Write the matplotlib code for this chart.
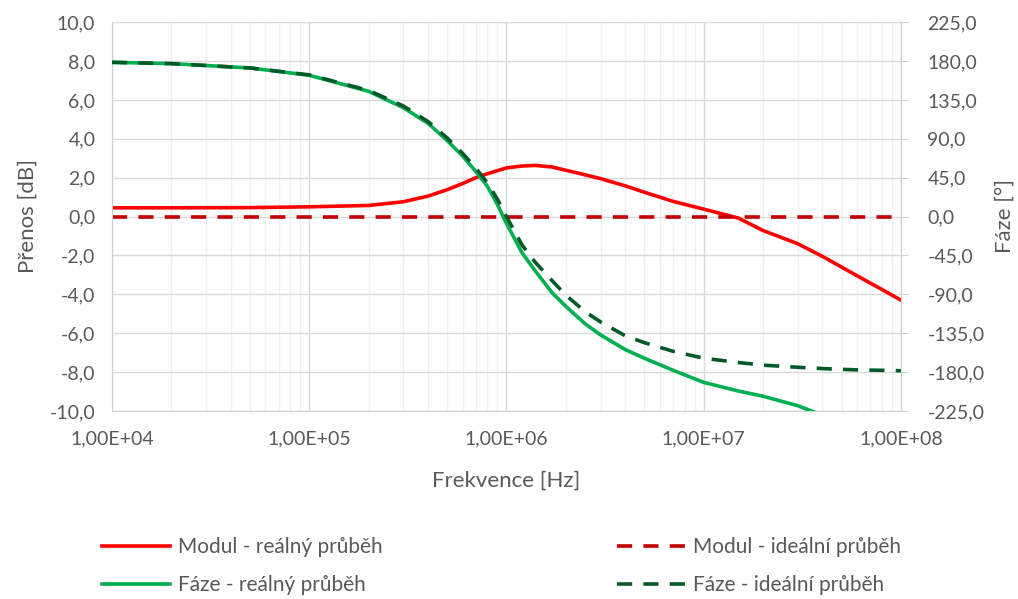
import matplotlib
matplotlib.use("Agg")
import matplotlib.pyplot as plt
from matplotlib.ticker import FixedLocator, FuncFormatter, LogLocator, NullFormatter, NullLocator

plt.rcParams["font.family"] = ["Lato", "DejaVu Sans"]

# Frequency points [Hz]
frequency = [1e4, 2e4, 5e4, 1e5, 2e5, 3e5, 4e5, 5e5, 6e5, 7e5, 8e5, 9e5,
             1e6, 1.2e6, 1.4e6, 1.7e6, 2e6, 2.5e6, 3e6, 4e6, 5e6, 7e6,
             1e7, 1.5e7, 2e7, 3e7, 4e7, 6e7, 8e7, 1e8]

# Magnitude [dB]
modul_real = [0.45, 0.45, 0.46, 0.50, 0.57, 0.76, 1.05, 1.38, 1.70, 2.00, 2.20, 2.36,
              2.50, 2.60, 2.63, 2.55, 2.38, 2.15, 1.95, 1.58, 1.25, 0.78,
              0.38, -0.08, -0.72, -1.40, -2.05, -3.05, -3.75, -4.30]
modul_ideal = [0.0, 0.0, 0.0, 0.0, 0.0, 0.0, 0.0, 0.0, 0.0, 0.0, 0.0, 0.0,
               0.0, 0.0, 0.0, 0.0, 0.0, 0.0, 0.0, 0.0, 0.0, 0.0,
               0.0, 0.0, 0.0, 0.0, 0.0, 0.0, 0.0, 0.0]

# Phase [deg]
faze_real = [178.5, 177.0, 172.0, 163.5, 145.0, 126.0, 108.0, 88.0, 70.0, 52.0, 35.0, 14.0,
             -8.0, -42.0, -63.0, -88.0, -104.0, -124.0, -137.0, -154.0, -164.0, -178.0,
             -192.0, -202.0, -208.0, -219.0, -230.0, -245.0, -255.0, -262.0]
faze_ideal = [178.5, 177.0, 172.0, 164.0, 146.0, 128.0, 110.0, 91.0, 73.0, 56.0, 39.0, 20.0,
              0.0, -33.0, -53.0, -74.0, -91.0, -110.0, -122.0, -138.0, -146.0, -156.0,
              -164.0, -169.0, -172.0, -174.5, -176.0, -177.5, -178.0, -178.5]

dB_ticks = [-10, -8, -6, -4, -2, 0, 2, 4, 6, 8, 10]
deg_ticks = [-225, -180, -135, -90, -45, 0, 45, 90, 135, 180, 225]

text_color = "#595959"
dash = (0, (4.2, 3.1))
lw = 2.6

fig = plt.figure(figsize=(10.18, 5.99), dpi=100)
ax1 = fig.add_axes([0.110, 0.314, 0.775, 0.649])

ax1.set_xscale("log")
ax1.set_xlim(1e4, 1e8)
ax1.set_ylim(-10, 10)
ax1.yaxis.set_major_locator(FixedLocator(dB_ticks))
ax1.yaxis.set_major_formatter(FuncFormatter(lambda v, p: f"{v:.1f}".replace(".", ",")))
ax1.xaxis.set_major_locator(LogLocator(base=10, numticks=10))
ax1.xaxis.set_minor_locator(LogLocator(base=10, subs=range(2, 10), numticks=100))
ax1.xaxis.set_minor_formatter(NullFormatter())
ax1.xaxis.set_major_formatter(FuncFormatter(lambda v, p: f"{v:.2E}".replace(".", ",")))

ax1.grid(which="major", color="#d9d9d9", linewidth=1.0)
ax1.grid(which="minor", axis="x", color="#f0f0f0", linewidth=1.0)
ax1.set_axisbelow(True)
for side in ["top", "left", "bottom", "right"]:
    ax1.spines[side].set_color("#d0d0d0")
ax1.spines["top"].set_visible(False)
ax1.tick_params(axis="both", which="both", length=0, colors=text_color, labelsize=14)
ax1.tick_params(axis="x", pad=14)
ax1.tick_params(axis="y", pad=12)

ax1.plot(frequency, modul_real, color="#ff0000", linewidth=lw, label="Modul - reálný průběh")
ax1.plot(frequency, modul_ideal, color="#c00000", linewidth=lw, linestyle=dash,
         label="Modul - ideální průběh")

ax1.set_xlabel("Frekvence [Hz]", color=text_color, fontsize=16, labelpad=17)

ax2 = ax1.twinx()
ax2.set_ylim(-225, 225)
ax2.yaxis.set_major_locator(FixedLocator(deg_ticks))
ax2.yaxis.set_minor_locator(NullLocator())
ax2.yaxis.set_major_formatter(FuncFormatter(lambda v, p: f"{v:.1f}".replace(".", ",")))
for side in ["top", "left", "bottom"]:
    ax2.spines[side].set_visible(False)
ax2.spines["right"].set_color("#d0d0d0")
ax2.tick_params(axis="y", length=5, color="#d0d0d0", labelcolor=text_color, labelsize=14, pad=14)

ax2.plot(frequency, faze_real, color="#00b050", linewidth=lw, label="Fáze - reálný průběh")
ax2.plot(frequency, faze_ideal, color="#005a28", linewidth=lw, linestyle=dash,
         label="Fáze - ideální průběh")

# Axis titles placed in figure coordinates
axis_mid = 1 - 216 / 599
fig.text(28 / 1018, axis_mid, "Přenos [dB]", rotation=90, ha="center", va="center",
         color=text_color, fontsize=16)
fig.text(1005 / 1018, axis_mid, "Fáze [°]", rotation=90, ha="center", va="center",
         color=text_color, fontsize=16)

# Legend: real curves in the left column, ideal curves in the right one
lines1, labels1 = ax1.get_legend_handles_labels()
lines2, labels2 = ax2.get_legend_handles_labels()
legend_style = dict(frameon=False, fontsize=15, labelcolor=text_color, handlelength=3.27,
                    handletextpad=0.4, labelspacing=0.85, borderpad=0, borderaxespad=0,
                    loc="upper left")
fig.legend([lines1[0], lines2[0]], [labels1[0], labels2[0]],
           bbox_to_anchor=(0.100, 0.103), **legend_style)
fig.legend([lines1[1], lines2[1]], [labels1[1], labels2[1]],
           bbox_to_anchor=(0.606, 0.103), **legend_style)

fig.savefig("out.png", dpi=100)
